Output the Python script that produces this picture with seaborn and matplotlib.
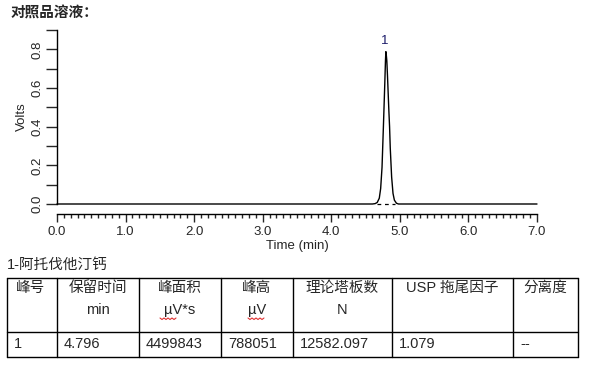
import numpy as np
import pandas as pd
import seaborn as sns
import matplotlib
matplotlib.use("Agg")
import matplotlib.pyplot as plt
from matplotlib.lines import Line2D
from matplotlib.ticker import MultipleLocator, FormatStrFormatter

# ---- data ----
time_min = [0.0, 4.60, 4.64, 4.67, 4.70, 4.72, 4.74, 4.76, 4.78, 4.79, 4.796,
            4.80, 4.81, 4.82, 4.84, 4.85, 4.86, 4.88, 4.90, 4.92, 4.95, 4.98, 7.0]
volts = [0.0, 0.0, 0.002, 0.008, 0.03, 0.08, 0.19, 0.40, 0.62, 0.74, 0.788,
         0.78, 0.74, 0.66, 0.48, 0.40, 0.29, 0.14, 0.055, 0.02, 0.004, 0.0, 0.0]
peak_label = "1"
peak_rt = 4.796
peak_height = 0.788
baseline_start, baseline_end = 4.67, 4.93

title = "对照品溶液："
compound = "1-阿托伐他汀钙"
headers_line1 = ["峰号", "保留时间", "峰面积", "峰高", "理论塔板数", "USP 拖尾因子", "分离度"]
headers_line2 = ["", "min", "µV*s", "µV", "N", "", ""]
row_values = ["1", "4.796", "4499843", "788051", "12582.097", "1.079", "--"]

# ---- style ----
sns.set_style("white")
plt.rcParams["font.family"] = ["Liberation Sans", "Noto Sans CJK SC"]

W, H = 597, 377
fig = plt.figure(figsize=(W / 100, H / 100), dpi=100)

def fx(px):
    return px / W

def fy(py):
    return 1 - py / H

ax = fig.add_axes([fx(57), fy(204), fx(537) - fx(57), fy(30) - fy(204)])
df = pd.DataFrame({"Time (min)": time_min, "Volts": volts})
sns.lineplot(data=df, x="Time (min)", y="Volts", ax=ax, color="black",
             linewidth=1.0, clip_on=False)
ax.plot([baseline_start, baseline_end], [0, 0], color="black", lw=0.9,
        ls=(0, (3, 3)), clip_on=False)
ax.text(peak_rt - 0.01, peak_height + 0.025, peak_label, ha="center", va="bottom",
        fontsize=9.5, color="#1c1c6a")

ax.set_xlim(0, 7)
ax.set_ylim(0, 0.9)
for s in ["top", "right"]:
    ax.spines[s].set_visible(False)
ax.spines["bottom"].set_position(("outward", 7))
ax.spines["left"].set_bounds(0, 0.9)
for s in ["bottom", "left"]:
    ax.spines[s].set_color("black")
    ax.spines[s].set_linewidth(1.0)

ax.xaxis.set_major_locator(MultipleLocator(1.0))
ax.xaxis.set_minor_locator(MultipleLocator(0.1))
ax.xaxis.set_major_formatter(FormatStrFormatter("%.1f"))
ax.yaxis.set_major_locator(MultipleLocator(0.2))
ax.yaxis.set_minor_locator(MultipleLocator(0.1))
ax.yaxis.set_major_formatter(FormatStrFormatter("%.1f"))
ax.tick_params(axis="x", which="major", direction="out", length=6, width=1,
               labelsize=9.5, pad=3, bottom=True)
ax.tick_params(axis="x", which="minor", direction="out", length=3, width=1, bottom=True)
ax.tick_params(axis="y", which="both", direction="out", length=8, width=1,
               labelsize=9.5, pad=2, left=True)
for lab in ax.get_yticklabels():
    lab.set_rotation(90)
    lab.set_va("center")
ax.set_xlabel("Time (min)", fontsize=9.5, labelpad=1)
ax.set_ylabel("Volts", fontsize=9.5, labelpad=2)
ax.grid(False)

# ---- title ----
fig.text(fx(11), fy(13), title, fontsize=10.5, fontweight="bold", ha="left", va="center")

# ---- table ----
FS = 10.5
fig.text(fx(7), fy(265), compound, fontsize=FS, ha="left", va="center")
col_x = [7, 57, 139, 221, 293, 392, 513, 578]
row_y = [278, 332, 357]
for yy in row_y:
    fig.add_artist(Line2D([fx(col_x[0]), fx(col_x[-1])], [fy(yy), fy(yy)],
                          color="black", lw=1.0))
for xx in col_x:
    fig.add_artist(Line2D([fx(xx), fx(xx)], [fy(row_y[0]), fy(row_y[-1])],
                          color="black", lw=1.0))

for i, (h1, h2, v) in enumerate(zip(headers_line1, headers_line2, row_values)):
    left, right = col_x[i], col_x[i + 1]
    cx = (left + right) / 2
    if i == 0:
        fig.text(fx(left + 9), fy(288), h1, fontsize=FS, ha="left", va="center")
    else:
        fig.text(fx(cx), fy(288), h1, fontsize=FS, ha="center", va="center")
    if h2:
        fig.text(fx(cx), fy(310), h2, fontsize=FS, ha="center", va="center")
        if "µ" in h2:
            # red wavy spell-check underline
            wlen = 16
            xs = np.arange(0, wlen + 1, 2)
            ys = np.where(np.arange(len(xs)) % 2 == 0, 0, 1.5)
            x0 = cx - (20 if h2 == "µV*s" else 9)
            fig.add_artist(Line2D([fx(x0 + x) for x in xs], [fy(318 + y) for y in ys],
                                  color="#e03030", lw=0.8))
    fig.text(fx(left + 7), fy(344), v, fontsize=FS, ha="left", va="center")

fig.savefig("out.png", dpi=100)
